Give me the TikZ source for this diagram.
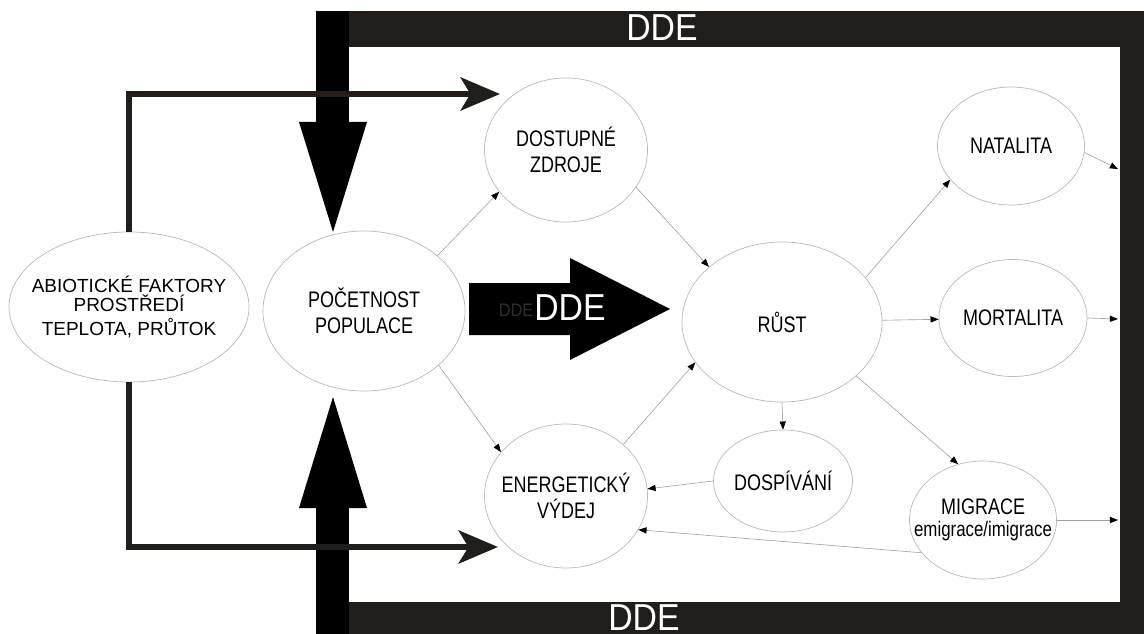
\documentclass[tikz,border=0pt]{standalone}
\usepackage{fontspec}
\setmainfont{Liberation Sans}
\newfontfamily\uzkepismo[FakeStretch=0.8]{Liberation Sans}
\newfontfamily\ddepismo[FakeStretch=0.9]{Liberation Sans}
\usepackage{tikz}
\usetikzlibrary{shapes.geometric, arrows.meta, calc}
\definecolor{ramec}{HTML}{211D1A}
\definecolor{car}{HTML}{A2A2A2}

\begin{document}
\begin{tikzpicture}[x=0.25mm, y=-0.25mm,
    elipsa/.style={ellipse, draw=black!28, line width=0.5pt, inner xsep=-15pt, inner ysep=0pt, align=center, font={\uzkepismo\fontsize{16}{18.4}\selectfont}},
    sipka/.style={draw=car, line width=0.45pt, -{Triangle[length=5.8pt, width=4.4pt, color=black]}},
    abiosipka/.style={draw=ramec, line width=4.3pt, -{Stealth[length=28pt, width=23.5pt, inset=7pt]}},
    dde/.style={text=white, font={\ddepismo\fontsize{26.7}{30}\selectfont}, inner sep=0pt}]
                \useasboundingbox (0,0) rectangle (1144,634);

                % Ramecek DDE
                \fill[ramec] (349,11) rectangle (1144,47);
                \fill[ramec] (1120,11) rectangle (1144,634);
                \fill[ramec] (349,602) rectangle (1144,634);
                \fill[black] (316,11) rectangle (349,122);
                \fill[black] (299,122) -- (367,122) -- (333,232) -- cycle;
                \fill[black] (316,634) rectangle (349,508);
                \fill[black] (299,508) -- (367,508) -- (333,397) -- cycle;
                \node[dde] (ddehore) at (662,28) {DDE};
                \node[dde] (ddedole) at (644,618) {DDE};

                % Stredni sipka DDE
                \fill[black] (469,283) -- (570,283) -- (570,258) -- (670,309) -- (570,360) -- (570,335) -- (469,335) -- cycle;
                \node[text=black!82, font={\ddepismo\fontsize{12.9}{14}\selectfont}, inner sep=0pt] (ddestin) at (516,310) {DDE};
                \node[dde] (ddestred) at (570,308) {DDE};

                % Uzly
                \node[elipsa, minimum width=60mm, minimum height=37.5mm, font={\fontsize{13.5}{14.5}\selectfont}] (abio) at (129,307) {ABIOTICKÉ FAKTORY\\[-0.5pt]PROSTŘEDÍ\\[2.5pt]TEPLOTA, PRŮTOK};
                \node[elipsa, minimum width=50.5mm, minimum height=40mm] (pocet) at (364,311) {POČETNOST\\POPULACE};
                \node[elipsa, minimum width=40.75mm, minimum height=36mm] (zdroje) at (566,150) {DOSTUPNÉ\\ZDROJE};
                \node[elipsa, minimum width=40.75mm, minimum height=36mm] (vydej) at (566,496) {ENERGETICKÝ\\VÝDEJ};
                \node[elipsa, minimum width=50mm, minimum height=40mm] (rust) at (782,322) {RŮST};
                \node[elipsa, minimum width=36.75mm, minimum height=29.5mm] (natalita) at (1011,146) {NATALITA};
                \node[elipsa, minimum width=37mm, minimum height=29.25mm] (mortalita) at (1013,318) {MORTALITA};
                \node[elipsa, minimum width=34.75mm, minimum height=25.5mm] (dospivani) at (783,481) {DOSPÍVÁNÍ};
                \node[elipsa, minimum width=36.75mm, minimum height=29.5mm] (migrace) at (983,520) {MIGRACE\\[-3pt]{\fontsize{15}{16}\selectfont emigrace/imigrace}};

                % Abioticke vlivy
                \coordinate (abiohore) at (500,94);
                \coordinate (abiodole) at (498,547);
                \draw[abiosipka] (abio.north) |- (abiohore);
                \draw[abiosipka] (abio.south) |- (abiodole);

                % Vazby
                \draw[sipka] (pocet.37) -- (zdroje.212);
                \draw[sipka] (zdroje.-28) -- (rust.143);
                \draw[sipka] (pocet.-36) -- (vydej.146);
                \draw[sipka] (vydej.42) -- (rust.205);
                \draw[sipka] (rust.28) -- (natalita.209);
                \draw[sipka] (rust.1) -- (mortalita.181);
                \draw[sipka] (rust.south) -- (dospivani.north);
                \draw[sipka] (rust.-36) -- (migrace.114);
                \draw[sipka] (dospivani.west) -- (vydej.5);
                \draw[sipka] (migrace.208) -- (vydej.-25);

                % Vystupy do ramecku
                \coordinate (natvystup) at (1118,169);
                \coordinate (morvystup) at (1118,319);
                \coordinate (migvystup) at (1118,520);
                \draw[sipka] (natalita.-5) -- (natvystup);
                \draw[sipka] (mortalita.east) -- (morvystup);
                \draw[sipka] (migrace.east) -- (migvystup);
            \end{tikzpicture}
\end{document}
